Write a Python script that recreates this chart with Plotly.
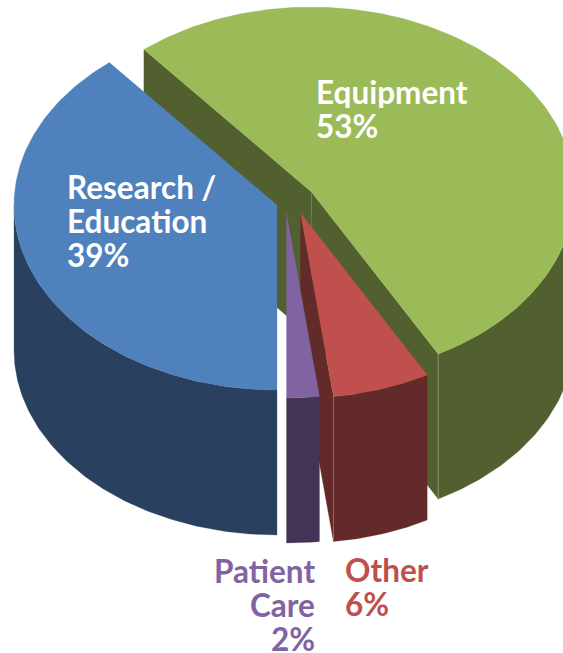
import math
import plotly.graph_objects as go

categories = ["Research / Education", "Equipment", "Other", "Patient Care"]
values = [39, 53, 6, 2]

top_colors = ["#4F81BD", "#9BBB59", "#C0504D", "#8064A2"]
side_colors = ["#29405F", "#525F2F", "#622A29", "#433356"]
text_colors = ["#FFFFFF", "#FFFFFF", "#C0504D", "#8064A2"]

# Projection of the pie (page pixels)
RX, RY, DEPTH = 263, 185, 145
START = 180.0
CENTERS = [(277, 205), (311.5, 192), (300.5, 213), (286.5, 213)]
DRAW_ORDER = [1, 2, 3, 0]
LABEL_LINES = [
    (["Research /", "Education", "39%"], 65, 186, "left"),
    (["Equipment", "53%"], 314, 91, "left"),
    (["Other", "6%"], 343, 569, "left"),
    (["Patient", "Care", "2%"], 317, 570, "right"),
]
LINE_STEP = 34
FONT = "Lato"
FONT_SIZE = 31.5


def rim(center, a, b):
    n = max(2, int(abs(b - a)) + 2)
    ts = [math.radians(a + (b - a) * i / (n - 1)) for i in range(n)]
    return [(center[0] + RX * math.sin(t), center[1] - RY * math.cos(t)) for t in ts]


def poly(fig, pts, color):
    xs = [p[0] for p in pts] + [pts[0][0]]
    ys = [p[1] for p in pts] + [pts[0][1]]
    fig.add_trace(go.Scatter(x=xs, y=ys, mode="lines", fill="toself", fillcolor=color,
                             line=dict(color=color, width=0.25), hoverinfo="skip", showlegend=False))


def hairline(fig, p, q, color):
    fig.add_trace(go.Scatter(x=[p[0], q[0]], y=[p[1], q[1]], mode="lines",
                             line=dict(color=color, width=1), hoverinfo="skip", showlegend=False))


def shift(pts):
    return [(x, y + DEPTH) for x, y in pts]


total = sum(values)
spans = []
angle = START
for v in values:
    spans.append((angle, angle + 360.0 * v / total))
    angle += 360.0 * v / total

fig = go.Figure()
for i in DRAW_ORDER:
    c = CENTERS[i]
    a, b = spans[i]
    side, top = side_colors[i], top_colors[i]
    arc = rim(c, a, b)
    # visible cut faces: both for the green slice, the left one for the red slice
    for t in (a, b):
        r = rim(c, t, t)[0]
        if i == 1 or (i == 2 and t == b):
            poly(fig, [c, r, (r[0], r[1] + DEPTH), (c[0], c[1] + DEPTH)], side)
    # outer wall: only the front half of the rim is visible
    for turn in (0.0, 360.0):
        lo, hi = max(a, 90.0 + turn), min(b, 270.0 + turn)
        if hi > lo:
            w = rim(c, lo, hi)
            poly(fig, w + shift(w)[::-1], side)
    poly(fig, [c] + arc, top)
    # light seams on the cut edges of the green and red slices
    if i == 1:
        r = rim(c, b, b)[0]
        hairline(fig, r, (r[0], r[1] + DEPTH), "#8A9470")
        hairline(fig, c, (c[0], c[1] + 24), "#77825A")
    if i == 2:
        r = rim(c, b, b)[0]
        hairline(fig, r, (r[0], r[1] + DEPTH), "#8E6A69")

annotations = []
for (lines, x, y, align), col in zip(LABEL_LINES, text_colors):
    for k, line in enumerate(lines):
        annotations.append(dict(x=x, y=y + k * LINE_STEP, text="<b>%s</b>" % line, showarrow=False,
                                xanchor=align, yanchor="middle", xref="x", yref="y", height=LINE_STEP - 1,
                                font=dict(family=FONT, size=FONT_SIZE, color=col)))

fig.update_layout(
    width=563, height=653, margin=dict(l=0, r=0, t=0, b=0),
    paper_bgcolor="white", plot_bgcolor="white", showlegend=False,
    xaxis=dict(range=[0, 563], visible=False, fixedrange=True),
    yaxis=dict(range=[653, 0], visible=False, fixedrange=True),
    annotations=annotations,
)
fig.write_html("out.html", config={"displayModeBar": False},
               post_script="document.body.style.margin='0';")
